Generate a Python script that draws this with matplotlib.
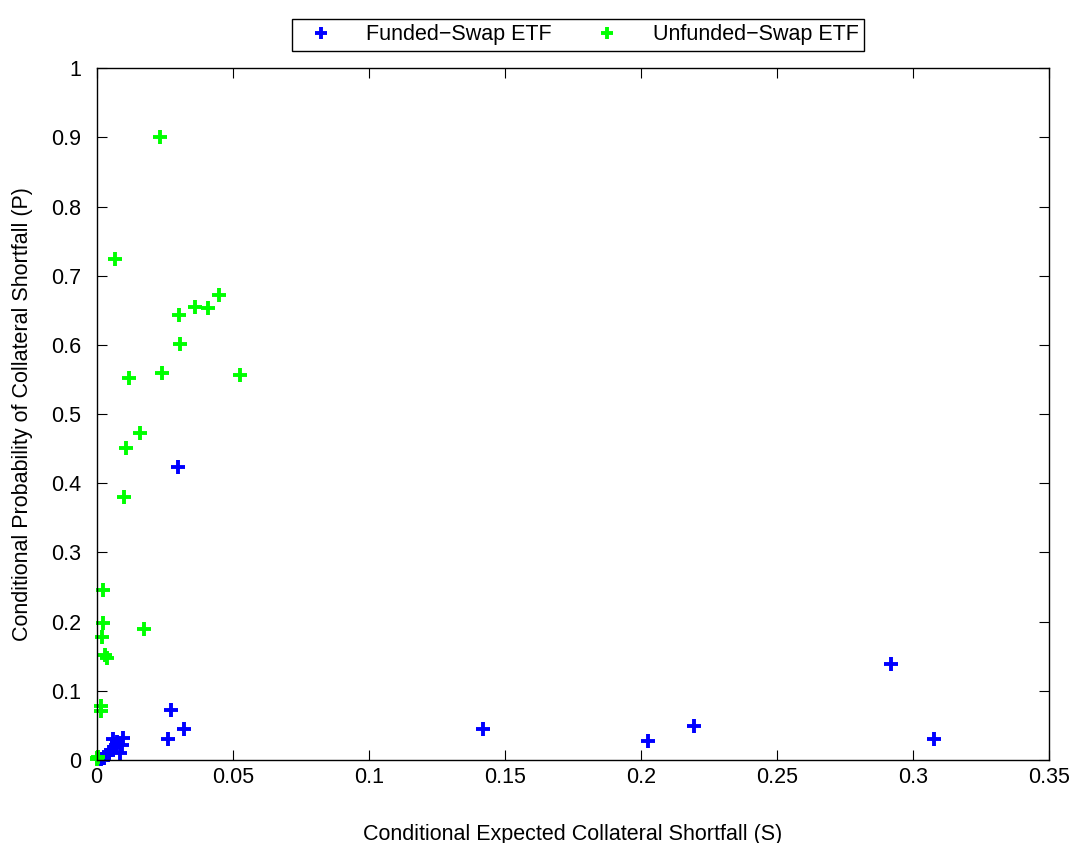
import numpy as np
import matplotlib
matplotlib.use("Agg")
import matplotlib.pyplot as plt

plt.rcParams['font.family'] = ['Liberation Sans', 'DejaVu Sans']

# Funded-swap ETF (S, P)
funded_s = [0.0299, 0.292, 0.3075, 0.2194, 0.2025, 0.142, 0.0274, 0.032, 0.0262,
            0.0061, 0.0097, 0.0094, 0.0086, 0.0068, 0.0053, 0.0042, 0.0028,
            0.0075, 0.0045, 0.0015]
funded_p = [0.423, 0.139, 0.030, 0.049, 0.027, 0.045, 0.072, 0.045, 0.030,
            0.030, 0.032, 0.022, 0.010, 0.019, 0.014, 0.007, 0.003,
            0.026, 0.012, 0.002]

# Unfunded-swap ETF (S, P)
unfunded_s = [0.0233, 0.0068, 0.0303, 0.036, 0.041, 0.045, 0.0306, 0.024, 0.0119,
              0.0527, 0.016, 0.0108, 0.0101, 0.0024, 0.0024, 0.002, 0.0174,
              0.003, 0.004, 0.0015, 0.0015, 0.0003, 0.0007, 0.0001]
unfunded_p = [0.901, 0.724, 0.643, 0.655, 0.653, 0.672, 0.601, 0.559, 0.552,
              0.556, 0.472, 0.451, 0.380, 0.246, 0.198, 0.178, 0.189,
              0.152, 0.147, 0.078, 0.071, 0.003, 0.004, 0.001]

fig = plt.figure(figsize=(10.73, 8.43), dpi=100)
ax = fig.add_axes([0.090, 0.0985, 0.888, 0.8205])

ax.plot(funded_s, funded_p, '+', color=(0, 0, 1), ms=10, mew=2.8, clip_on=False,
        label='Funded\u2212Swap ETF')
ax.plot(unfunded_s, unfunded_p, '+', color=(0, 1, 0), ms=10, mew=2.8, clip_on=False,
        label='Unfunded\u2212Swap ETF')

ax.set_xlim(0, 0.35)
ax.set_ylim(0, 1)
ax.set_xticks(np.arange(0, 0.351, 0.05))
ax.set_xticklabels(['0', '0.05', '0.1', '0.15', '0.2', '0.25', '0.3', '0.35'])
ax.set_yticks(np.arange(0, 1.01, 0.1))
ax.set_yticklabels(['0', '0.1', '0.2', '0.3', '0.4', '0.5', '0.6', '0.7', '0.8', '0.9', '1'])
ax.tick_params(direction='in', top=True, right=True, length=7, labelsize=15.5, pad=5)
ax.tick_params(axis='y', pad=11)
for sp in ax.spines.values():
    sp.set_linewidth(1.0)

ax.set_xlabel('Conditional Expected Collateral Shortfall (S)', fontsize=15.5, labelpad=26)
ax.set_ylabel('Conditional Probability of Collateral Shortfall (P)', fontsize=15.5, labelpad=13)

leg = ax.legend(loc='center', bbox_to_anchor=(0.505, 1.0485), ncol=2, fontsize=15.5,
                fancybox=False, framealpha=1, edgecolor='black', borderpad=0.25,
                handletextpad=1.0, columnspacing=1.5, markerscale=0.85, handlelength=2.2)
leg.get_frame().set_linewidth(1.0)

fig.savefig('out.png', dpi=100)
